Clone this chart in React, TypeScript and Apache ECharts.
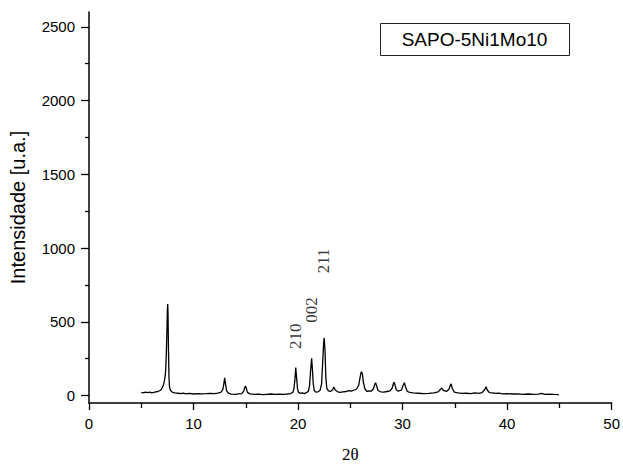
import React, { useEffect, useRef } from "react";
import * as echarts from "echarts";

const twoTheta = [
  5.0, 5.2, 5.4, 5.6, 5.8, 6.0, 6.2, 6.4, 6.6, 6.8, 6.9, 7.0, 7.1, 7.2, 7.3, 7.35, 7.4, 7.45, 7.5, 7.53, 7.56, 7.6, 7.65, 7.7, 7.8, 7.9,
  8.0, 8.2, 8.5, 8.8, 9.0, 9.3, 9.6, 10.0, 10.4, 10.8, 11.2, 11.6, 12.0, 12.3, 12.6, 12.8, 12.9, 12.98, 13.05, 13.15, 13.3, 13.6,
  14.0, 14.3, 14.6, 14.8, 14.9, 14.97, 15.05, 15.15, 15.4, 15.8, 16.2, 16.6, 17.0, 17.4, 17.8, 18.2, 18.6, 19.0, 19.3, 19.5, 19.6,
  19.7, 19.78, 19.86, 19.95, 20.05, 20.2, 20.4, 20.6, 20.8, 21.0, 21.1, 21.2, 21.3, 21.38, 21.45, 21.55, 21.7, 21.9, 22.1, 22.25,
  22.35, 22.45, 22.5, 22.58, 22.66, 22.75, 22.9, 23.1, 23.3, 23.43, 23.55, 23.8, 24.0, 24.3, 24.6, 24.9, 25.1, 25.4, 25.6, 25.8,
  25.95, 26.05, 26.15, 26.25, 26.4, 26.6, 26.8, 27.0, 27.2, 27.35, 27.42, 27.5, 27.65, 27.9, 28.2, 28.5, 28.8, 29.0, 29.12, 29.19,
  29.28, 29.4, 29.6, 29.9, 30.05, 30.17, 30.28, 30.45, 30.7, 31.0, 31.5, 32.0, 32.5, 33.0, 33.4, 33.65, 33.75, 33.9, 34.2, 34.45,
  34.57, 34.64, 34.75, 34.95, 35.3, 35.7, 36.1, 36.5, 36.9, 37.3, 37.6, 37.85, 37.99, 38.1, 38.3, 38.6, 38.9, 39.2, 39.6, 40.0,
  40.5, 41.0, 41.5, 42.0, 42.5, 43.0, 43.3, 43.6, 44.0, 44.5, 44.95,
];

const intensity = [
  22, 18, 24, 20, 23, 19, 22, 25, 28, 35, 42, 52, 68, 95, 140, 190, 290, 430, 580, 620, 560, 320, 130, 60, 35, 28,
  22, 18, 16, 14, 17, 12, 15, 11, 14, 12, 13, 15, 14, 17, 22, 40, 80, 120, 85, 35, 18, 10,
  8, 12, 14, 30, 55, 65, 50, 22, 12, 8, 10, 7, 9, 11, 8, 10, 9, 11, 14, 22, 45,
  110, 190, 120, 45, 22, 16, 18, 14, 20, 32, 70, 170, 253, 170, 80, 35, 24, 26, 35, 80,
  220, 360, 391, 300, 120, 50, 32, 28, 40, 58, 38, 26, 22, 25, 28, 34, 30, 38, 45, 70,
  130, 162, 150, 90, 45, 28, 32, 30, 45, 78, 87, 70, 35, 26, 24, 28, 32, 50, 82, 91,
  70, 38, 30, 38, 70, 87, 60, 28, 22, 18, 16, 14, 15, 18, 25, 45, 51, 35, 28, 45,
  72, 80, 50, 24, 18, 15, 16, 13, 18, 15, 20, 40, 60, 38, 20, 18, 15, 17, 12, 14,
  11, 12, 9, 11, 8, 10, 15, 8, 10, 8, 7,
];

const yMajorTicks = [0, 500, 1000, 1500, 2000, 2500];
const yMinorTicks = [250, 750, 1250, 1750, 2250];

const peakLabels = ["210", "002", "211"];
const peakLabelX = [19.74, 21.29, 22.4];
const peakLabelY = [403, 580, 913];

const sampleName = "SAPO-5Ni1Mo10";

const SANS = "'Liberation Sans', Arial, sans-serif";
const SERIF = "'Liberation Serif', 'Times New Roman', serif";

export default function App() {
  const ref = useRef<HTMLDivElement>(null);

  useEffect(() => {
    if (!ref.current) return;
    const chart = echarts.init(ref.current, undefined, { renderer: "svg" });
    const lineData = twoTheta.map((x, i) => [x, intensity[i]]);
    const labelData = peakLabels.map((name, i) => ({ name, value: [peakLabelX[i], peakLabelY[i]] }));

    chart.setOption({
      animation: false,
      backgroundColor: "#ffffff",
      grid: { left: 89, right: 8, top: 12, bottom: 58, containLabel: false },
      xAxis: {
        type: "value",
        min: 0,
        max: 50,
        interval: 10,
        name: "2θ",
        nameLocation: "middle",
        nameGap: 43,
        nameTextStyle: { fontFamily: SERIF, fontSize: 17, color: "#000" },
        axisLine: { show: true, onZero: false, lineStyle: { color: "#000", width: 1.5 } },
        axisTick: { show: true, length: 7, lineStyle: { color: "#000", width: 1.3 } },
        minorTick: { show: true, splitNumber: 2, length: 5, lineStyle: { color: "#000", width: 1.3 } },
        axisLabel: { fontFamily: SANS, fontSize: 15, color: "#000", margin: 13 },
        splitLine: { show: false },
        minorSplitLine: { show: false },
      },
      yAxis: [
        {
          type: "value",
          min: -50,
          max: 2600,
          name: "Intensidade [u.a.]",
          nameLocation: "middle",
          nameGap: 61,
          nameTextStyle: { fontFamily: SANS, fontSize: 20, color: "#000" },
          axisLine: { show: true, onZero: false, lineStyle: { color: "#000", width: 1.5 } },
          axisTick: { show: true, length: 8, customValues: yMajorTicks, lineStyle: { color: "#000", width: 1.3 } },
          axisLabel: {
            fontFamily: SANS,
            fontSize: 15,
            color: "#000",
            margin: 14,
            customValues: yMajorTicks,
            formatter: (v: number) => String(v),
          },
          splitLine: { show: false },
        },
        {
          type: "value",
          min: -50,
          max: 2600,
          position: "left",
          offset: 0,
          axisLine: { show: false, onZero: false },
          axisTick: { show: true, length: 4, customValues: yMinorTicks, lineStyle: { color: "#000", width: 1.3 } },
          axisLabel: { show: false },
          splitLine: { show: false },
        },
      ],
      series: [
        {
          type: "line",
          data: lineData,
          showSymbol: false,
          symbol: "none",
          lineStyle: { color: "#000", width: 1.3 },
          silent: true,
        },
        {
          type: "scatter",
          data: labelData,
          symbolSize: 0,
          silent: true,
          label: {
            show: true,
            position: "inside",
            formatter: (p: any) => p.name,
            rotate: 90,
            fontFamily: SERIF,
            fontSize: 17,
            color: "#000",
            align: "center",
            verticalAlign: "middle",
          },
        },
      ],
      graphic: [
        {
          type: "rect",
          left: 380,
          top: 23,
          shape: { width: 189, height: 32 },
          style: { fill: "#fff", stroke: "#222", lineWidth: 1 },
          z: 10,
        },
        {
          type: "text",
          x: 474.5,
          y: 39.5,
          style: {
            text: sampleName,
            fontFamily: SANS,
            fontSize: 19,
            fill: "#000",
            align: "center",
            verticalAlign: "middle",
          },
          z: 11,
        },
      ],
    });

    return () => chart.dispose();
  }, []);

  return (
    <div
      ref={ref}
      style={{ position: "fixed", left: 0, top: 0, width: 623, height: 468, background: "#fff" }}
    />
  );
}
